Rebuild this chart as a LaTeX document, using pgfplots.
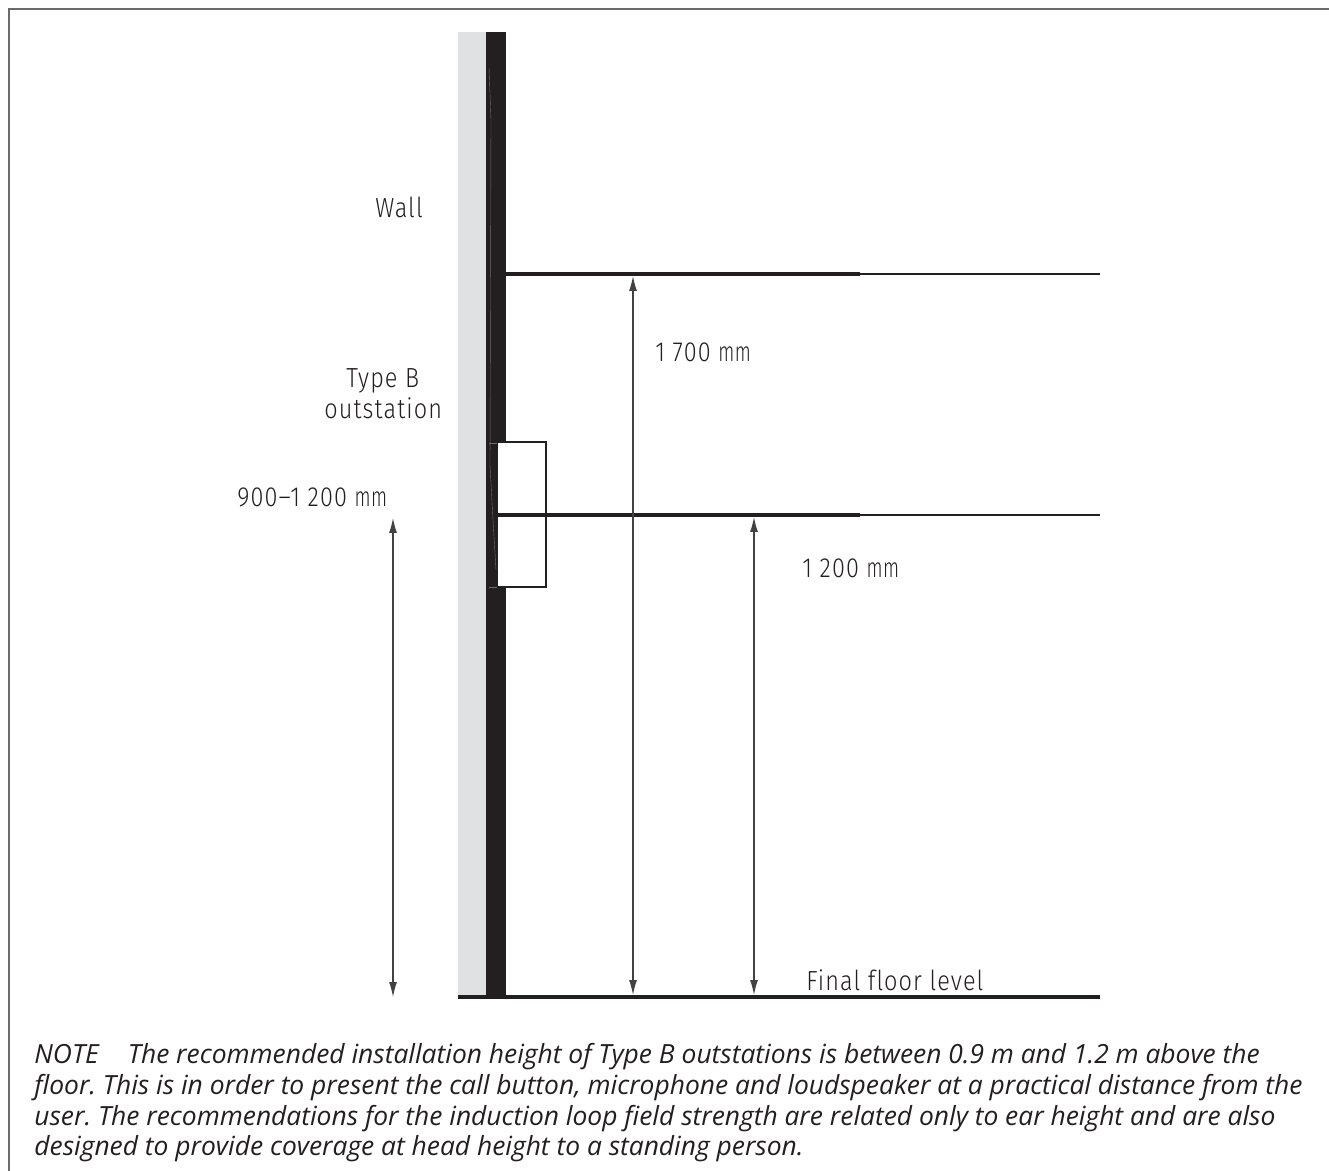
\documentclass[border=0pt]{standalone}
\usepackage{fontspec}
\setmainfont[Ligatures=CommonOff]{Open Sans}
\newfontfamily\lab[LetterSpace=4,FakeStretch=0.85,Ligatures=CommonOff]{Fira Sans Light}
\newfontfamily\labmm[LetterSpace=2,FakeStretch=0.68]{Fira Sans Light}
\usepackage{pgfplots}
\pgfplotsset{compat=1.18}
\usetikzlibrary{arrows.meta}
\definecolor{ink}{HTML}{231F20}
\definecolor{wallgray}{HTML}{E0E1E3}
\definecolor{framegray}{HTML}{6A6A6A}
\newcommand{\mm}{{\labmm mm}}
\tikzset{
  lab/.style={font=\fontsize{13.8}{15}\lab,text=ink,inner sep=0pt,anchor=base west},
  note/.style={font=\fontsize{13.2}{15}\selectfont\itshape\frenchspacing,text=ink,inner sep=0pt,anchor=base west},
  dim/.style={draw=ink!85,line width=0.6pt,{Latex[length=7.5pt,width=4pt]}-{Latex[length=7.5pt,width=4pt]}}}
\begin{document}
\begin{tikzpicture}
\useasboundingbox (0,0) rectangle (664.5pt,585.5pt);
\begin{axis}[hide axis,scale only axis,width=664.5pt,height=585.5pt,
  xmin=0,xmax=1329,ymin=0,ymax=1171,y dir=reverse,clip=false]
% frame
\addplot[framegray,line width=1pt,forget plot] coordinates {(8.5,1171) (8.5,9) (1329,9)};
% wall
\addplot[fill=wallgray,draw=none,forget plot] coordinates {(458,32) (486,32) (486,997) (458,997)} --cycle;
\addplot[fill=ink,draw=none,forget plot] coordinates {(486,32) (506,32) (506,997) (486,997)} --cycle;
\addplot[ink!65!white,line width=0.2pt,forget plot] coordinates {(489,68) (491,120) (490,465) (493,520) (496,570)};
\addplot[ink!65!white,line width=0.2pt,forget plot] coordinates {(489,443) (497,443)};
\addplot[ink!65!white,line width=0.2pt,forget plot] coordinates {(489,587) (497,587)};
% outstation box
\addplot[fill=white,draw=none,forget plot] coordinates {(498,442) (546,442) (546,587) (498,587)} --cycle;
\addplot[ink,line width=1.2pt,forget plot] coordinates {(498,442) (546,442) (546,587) (498,587)};
% height lines
\addplot[ink,line width=1.8pt,forget plot] coordinates {(506,274) (860,274)};
\addplot[ink,line width=0.6pt,forget plot] coordinates {(860,274) (1100,274)};
\addplot[ink,line width=1.8pt,forget plot] coordinates {(498,515) (860,515)};
\addplot[ink,line width=0.6pt,forget plot] coordinates {(860,515) (1100,515)};
\addplot[ink,line width=1.6pt,forget plot] coordinates {(458,997) (1100,997)};
% dimension arrows
\addplot[dim,forget plot] coordinates {(633,276) (633,995)};
\addplot[dim,forget plot] coordinates {(754,517) (754,995)};
\addplot[dim,forget plot] coordinates {(393,518) (393,997)};
% labels
\node[lab] at (axis cs:375,218) {Wall};
\node[lab] at (axis cs:346,387.5) {Type B};
\node[lab] at (axis cs:324,419) {outstation};
\node[lab] at (axis cs:237,507) {900–1 200 \mm};
\node[lab] at (axis cs:655,362) {1 700 \mm};
\node[lab] at (axis cs:802,578) {1 200 \mm};
\node[lab] at (axis cs:806,990) {Final floor level};
% note
\node[note] at (axis cs:34,1063) {NOTE\hspace{1.1em}The recommended installation height of Type B outstations is between 0.9 m and 1.2 m above the};
\node[note] at (axis cs:34,1094) {floor. This is in order to present the call button, microphone and loudspeaker at a practical distance from the};
\node[note] at (axis cs:34,1125) {user. The recommendations for the induction loop field strength are related only to ear height and are also};
\node[note] at (axis cs:34,1155) {designed to provide coverage at head height to a standing person.};
\end{axis}
\end{tikzpicture}
\end{document}
